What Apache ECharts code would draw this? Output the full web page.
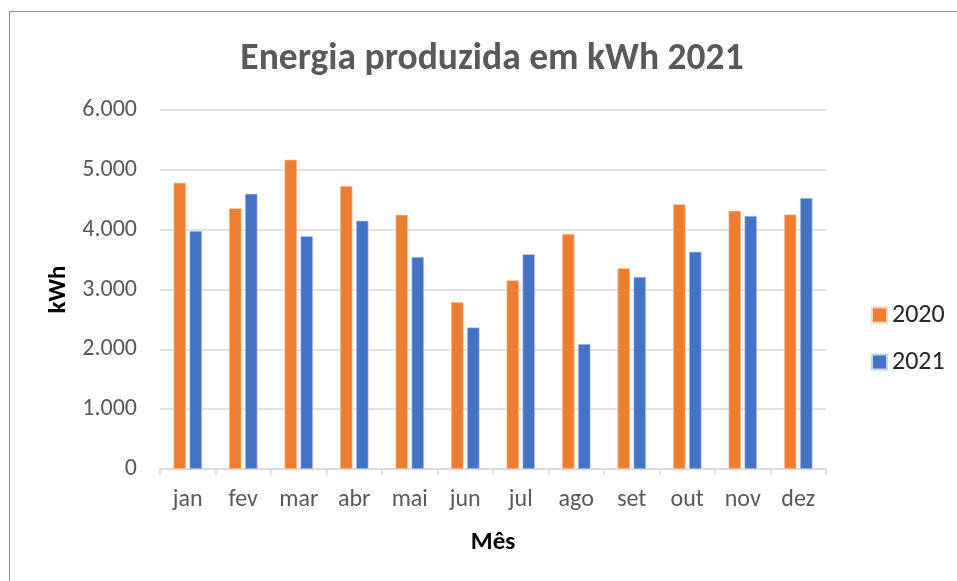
<!DOCTYPE html>
<html>
<head>
<meta charset="utf-8">
<script src="https://cdn.jsdelivr.net/npm/echarts@6/dist/echarts.min.js"></script>
<style>
  html, body { margin: 0; padding: 0; background: #fff; }
  #chart { width: 957px; height: 581px; }
</style>
</head>
<body>
<div id="chart"></div>
<script>
// dados
const meses = ['jan', 'fev', 'mar', 'abr', 'mai', 'jun', 'jul', 'ago', 'set', 'out', 'nov', 'dez']
const valores2020 = [4785, 4360, 5170, 4730, 4250, 2790, 3155, 3930, 3355, 4425, 4315, 4255]
const valores2021 = [3980, 4600, 3890, 4150, 3545, 2365, 3590, 2090, 3210, 3630, 4230, 4530]
const yTicks = [0, 1000, 2000, 3000, 4000, 5000, 6000]

const fonte = 'Carlito, Calibri, Lato, sans-serif'

// formata 6000 -> 6.000
function fmt(v) {
  return String(v).replace(/\B(?=(\d{3})+(?!\d))/g, '.')
}

const chart = echarts.init(document.getElementById('chart'), null, { renderer: 'canvas' })

chart.setOption({
  animation: false,
  textStyle: { fontFamily: fonte },
  title: {
    text: 'Energia produzida em kWh 2021',
    left: 487,
    textAlign: 'center',
    top: 36,
    textStyle: { fontSize: 37.5, fontWeight: 'bold', color: '#595959', fontFamily: fonte }
  },
  // moldura do gráfico
  graphic: [
    {
      type: 'rect',
      shape: { x: 9.5, y: 11.5, width: 1000, height: 700 },
      style: { fill: 'none', stroke: '#8c8c8c', lineWidth: 1 },
      silent: true
    }
  ],
  legend: {
    orient: 'vertical',
    left: 866,
    top: 297,
    itemWidth: 15,
    itemHeight: 15,
    itemGap: 21,
    icon: 'rect',
    textStyle: { fontSize: 26, color: '#262626', fontFamily: fonte }
  },
  grid: { left: 160, right: 131, top: 110, bottom: 112, containLabel: false },
  xAxis: {
    type: 'category',
    data: meses,
    name: 'Mês',
    nameLocation: 'middle',
    nameGap: 61,
    nameTextStyle: { fontSize: 25, fontWeight: 'bold', color: '#000', fontFamily: fonte },
    axisLine: { lineStyle: { color: '#d9d9d9', width: 1.5 } },
    axisTick: { show: true, length: 6, lineStyle: { color: '#d9d9d9', width: 1.5 } },
    axisLabel: { fontSize: 24, color: '#595959', margin: 19, fontFamily: fonte }
  },
  yAxis: {
    type: 'value',
    min: yTicks[0],
    max: yTicks[yTicks.length - 1],
    interval: yTicks[1] - yTicks[0],
    name: 'kWh',
    nameLocation: 'middle',
    nameGap: 88,
    nameTextStyle: { fontSize: 25, fontWeight: 'bold', color: '#000', fontFamily: fonte },
    axisLine: { show: false },
    axisTick: { show: false },
    axisLabel: { fontSize: 24, color: '#595959', margin: 23, formatter: fmt, fontFamily: fonte },
    splitLine: { lineStyle: { color: '#d9d9d9', width: 1.5 } }
  },
  series: [
    {
      name: '2020',
      type: 'bar',
      data: valores2020,
      barWidth: 12.5,
      barGap: '28%',
      itemStyle: { color: '#ED7D31', borderColor: '#fbd3b8', borderWidth: 0.6 }
    },
    {
      name: '2021',
      type: 'bar',
      data: valores2021,
      barWidth: 12.5,
      barGap: '28%',
      itemStyle: { color: '#4472C4', borderColor: '#c5d4ee', borderWidth: 0.6 }
    }
  ]
})

window.addEventListener('resize', chart.resize)
</script>
</body>
</html>
